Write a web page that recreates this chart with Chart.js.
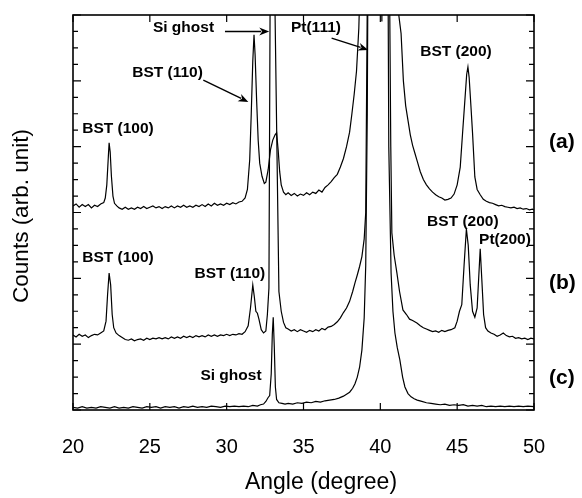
<!DOCTYPE html>
<html><head><meta charset="utf-8">
<script src="https://cdn.jsdelivr.net/npm/chart.js@4.4.0/dist/chart.umd.min.js"></script>
<style>html,body{margin:0;padding:0;background:#fff}</style>
</head><body>
<canvas id="c" width="582" height="498" style="width:582px;height:498px;display:block"></canvas>
<script>
// ---- data (angle in degrees, counts in arbitrary stacked units) ----
const xTicks = [20, 25, 30, 35, 40, 45, 50];

const angA = [20.0,20.2,20.4,20.6,20.8,21.0,21.2,21.4,21.6,21.8,22.0,22.1,22.2,22.3,22.35,22.42,22.5,22.6,22.7,22.85,23.0,23.2,23.4,23.6,23.8,24.0,24.2,24.4,24.6,24.8,25.0,25.2,25.4,25.6,25.8,26.0,26.2,26.4,26.6,26.8,27.0,27.2,27.4,27.6,27.8,28.0,28.2,28.4,28.6,28.8,29.0,29.2,29.4,29.6,29.8,30.0,30.2,30.4,30.6,30.8,31.0,31.2,31.35,31.5,31.6,31.7,31.78,31.85,31.95,32.05,32.15,32.3,32.45,32.55,32.7,32.85,33.0,33.15,33.25,33.35,33.45,33.55,33.7,33.85,34.0,34.2,34.4,34.6,34.8,35.0,35.2,35.4,35.6,35.8,36.0,36.2,36.4,36.6,36.8,37.0,37.2,37.4,37.6,37.8,38.0,38.15,38.3,38.45,38.6,38.8,39.2,39.6,39.95,40.1,40.25,40.6,41.0,41.2,41.35,41.5,41.65,41.8,41.95,42.1,42.25,42.4,42.6,42.8,43.0,43.2,43.4,43.6,43.8,44.0,44.2,44.4,44.6,44.8,45.0,45.2,45.35,45.5,45.62,45.7,45.78,45.9,46.0,46.15,46.3,46.5,46.7,46.9,47.1,47.3,47.5,47.7,47.9,48.1,48.3,48.5,48.7,48.9,49.1,49.3,49.5,49.7,49.9,50.0];
const valA = [3.10,3.13,3.08,3.12,3.09,3.12,3.07,3.11,3.09,3.13,3.15,3.22,3.42,3.85,4.06,3.92,3.55,3.25,3.14,3.10,3.07,3.05,3.08,3.05,3.07,3.05,3.08,3.06,3.09,3.06,3.08,3.10,3.07,3.09,3.06,3.09,3.07,3.10,3.07,3.10,3.08,3.11,3.08,3.10,3.08,3.11,3.09,3.12,3.09,3.13,3.10,3.14,3.11,3.13,3.11,3.14,3.12,3.15,3.13,3.16,3.17,3.22,3.35,3.80,4.50,5.30,5.70,5.40,4.70,4.10,3.75,3.55,3.44,3.46,3.65,3.95,4.10,4.18,4.21,3.95,3.62,3.42,3.31,3.27,3.30,3.26,3.29,3.25,3.28,3.26,3.30,3.27,3.31,3.29,3.34,3.31,3.38,3.42,3.47,3.53,3.58,3.69,3.82,4.00,4.22,4.50,4.80,5.15,5.80,7.5,10,14,16,5.9,16,14,8.5,6.0,5.72,5.00,4.62,4.40,4.18,4.02,3.90,3.78,3.62,3.50,3.42,3.36,3.31,3.27,3.24,3.22,3.19,3.20,3.22,3.28,3.42,3.69,4.20,4.70,5.10,5.21,5.05,4.60,4.21,3.54,3.35,3.27,3.20,3.17,3.15,3.14,3.12,3.10,3.11,3.09,3.08,3.07,3.08,3.06,3.07,3.05,3.06,3.04,3.05,3.04];

const angB = [20.0,20.2,20.4,20.6,20.8,21.0,21.2,21.4,21.6,21.8,22.0,22.15,22.25,22.35,22.45,22.55,22.65,22.8,23.0,23.2,23.4,23.6,23.8,24.0,24.2,24.4,24.6,24.8,25.0,25.2,25.4,25.6,25.8,26.0,26.2,26.4,26.6,26.8,27.0,27.2,27.4,27.6,27.8,28.0,28.2,28.4,28.6,28.8,29.0,29.2,29.4,29.6,29.8,30.0,30.2,30.4,30.6,30.8,31.0,31.2,31.4,31.55,31.7,31.8,31.9,32.0,32.1,32.25,32.4,32.55,32.65,32.75,33.0,33.15,33.4,33.55,33.7,33.85,34.0,34.2,34.4,34.6,34.8,35.0,35.2,35.4,35.6,35.8,36.0,36.2,36.4,36.6,36.8,37.0,37.2,37.4,37.6,37.8,38.0,38.2,38.35,38.5,38.65,38.8,38.95,39.05,39.15,39.3,39.85,40.4,40.55,40.68,40.75,40.9,41.08,41.25,41.47,41.7,41.9,42.1,42.38,42.6,42.8,43.0,43.2,43.4,43.6,43.8,44.0,44.2,44.4,44.6,44.85,45.0,45.15,45.3,45.45,45.6,45.72,45.85,46.0,46.15,46.3,46.4,46.5,46.6,46.72,46.85,47.0,47.2,47.4,47.6,47.8,48.0,48.2,48.4,48.6,48.8,49.0,49.2,49.4,49.6,49.8,50.0];
const valB = [1.14,1.11,1.15,1.12,1.14,1.10,1.13,1.15,1.14,1.17,1.20,1.35,1.75,2.08,1.90,1.45,1.25,1.17,1.13,1.10,1.07,1.06,1.08,1.05,1.07,1.08,1.06,1.09,1.07,1.09,1.08,1.10,1.08,1.10,1.08,1.11,1.09,1.11,1.09,1.12,1.10,1.12,1.10,1.13,1.11,1.13,1.11,1.14,1.12,1.14,1.12,1.14,1.13,1.15,1.13,1.15,1.14,1.16,1.15,1.19,1.28,1.55,1.90,1.72,1.50,1.47,1.38,1.22,1.17,1.20,1.45,1.85,16,6.0,1.80,1.50,1.33,1.25,1.23,1.20,1.22,1.19,1.22,1.20,1.18,1.21,1.19,1.22,1.20,1.24,1.22,1.26,1.27,1.30,1.34,1.40,1.48,1.55,1.65,1.80,1.93,2.05,2.18,2.33,2.60,3.00,6.2,12,40,12,8,4.0,2.69,2.35,2.08,1.80,1.52,1.45,1.38,1.36,1.32,1.28,1.25,1.23,1.21,1.19,1.20,1.18,1.21,1.19,1.21,1.22,1.25,1.35,1.50,1.60,2.20,2.75,2.50,1.90,1.50,1.41,1.55,2.00,2.45,2.00,1.45,1.25,1.20,1.17,1.15,1.12,1.14,1.17,1.13,1.11,1.12,1.09,1.10,1.08,1.09,1.07,1.09,1.08];

const angC = [20.0,20.3,20.6,20.9,21.2,21.5,21.8,22.1,22.4,22.7,23.0,23.3,23.6,23.9,24.2,24.5,24.8,25.1,25.4,25.7,26.0,26.3,26.6,26.9,27.2,27.5,27.8,28.1,28.4,28.7,29.0,29.3,29.6,29.9,30.2,30.5,30.8,31.1,31.4,31.7,32.0,32.2,32.4,32.55,32.7,32.8,32.9,32.97,33.03,33.1,33.17,33.25,33.4,33.6,33.8,34.0,34.3,34.6,34.9,35.2,35.5,35.8,36.1,36.4,36.7,37.0,37.3,37.6,37.8,38.0,38.2,38.35,38.5,38.65,38.8,38.95,39.05,39.15,39.3,39.85,40.4,40.55,40.7,40.82,40.95,41.1,41.27,41.45,41.6,41.8,42.0,42.2,42.4,42.7,43.0,43.3,43.6,43.9,44.2,44.5,44.8,45.1,45.4,45.7,46.0,46.3,46.6,46.9,47.2,47.5,47.8,48.1,48.4,48.7,49.0,49.3,49.6,50.0];
const valC = [0.04,0.03,0.05,0.03,0.04,0.03,0.05,0.04,0.03,0.05,0.03,0.04,0.03,0.05,0.04,0.03,0.05,0.04,0.05,0.03,0.05,0.04,0.05,0.03,0.05,0.04,0.06,0.04,0.05,0.04,0.06,0.05,0.04,0.06,0.05,0.06,0.05,0.06,0.05,0.07,0.06,0.08,0.09,0.13,0.19,0.22,0.55,1.15,1.41,0.95,0.35,0.16,0.11,0.10,0.09,0.10,0.09,0.11,0.10,0.12,0.11,0.13,0.12,0.14,0.15,0.16,0.18,0.21,0.24,0.27,0.33,0.40,0.50,0.65,0.91,1.40,2.20,4.5,12,60,12,4.0,2.08,1.50,1.17,0.95,0.76,0.50,0.35,0.25,0.20,0.17,0.15,0.13,0.11,0.10,0.09,0.08,0.09,0.07,0.08,0.07,0.08,0.06,0.07,0.06,0.07,0.05,0.06,0.05,0.06,0.05,0.06,0.05,0.06,0.05,0.06,0.05];

// peak annotations: text, anchor angle, anchor value
const noteText = ['Si ghost','BST (110)','BST (100)','Pt(111)','BST (200)','BST (200)','Pt(200)','BST (100)','BST (110)','Si ghost'];
const noteAng  = [27.19, 26.15, 22.93, 35.81, 44.92, 45.37, 48.11, 22.93, 30.21, 30.28];
const noteVal  = [5.81, 5.12, 4.28, 5.81, 5.44, 2.86, 2.58, 2.32, 2.07, 0.52];
const tagText = ['(a)','(b)','(c)'];
const tagVal  = [4.07, 1.93, 0.49];
// arrows: [fromAngle, fromVal, toAngle, toVal]
const arrows = [[29.89,5.75,32.77,5.75],[28.48,5.01,31.41,4.68],[36.83,5.65,39.21,5.47]];

const FONT = "'Liberation Sans', Arial, Helvetica, sans-serif";

function series(ang, val){ return ang.map((a,i)=>({x:a, y:val[i]})); }
function ds(ang, val){ return {data: series(ang,val), borderColor:'#000', borderWidth:1.2, pointRadius:0, fill:false, tension:0}; }

const decor = {
  id: 'decor',
  afterDatasetsDraw(chart){
    const {ctx, chartArea:a, scales:{x, y}} = chart;
    ctx.save();
    ctx.strokeStyle = '#000'; ctx.fillStyle = '#000';
    ctx.lineWidth = 1.6;
    ctx.strokeRect(a.left, a.top, a.right - a.left, a.bottom - a.top);
    ctx.lineWidth = 1.2;
    ctx.beginPath();
    for (let i = 0; i <= 24; i++) {
      const py = y.getPixelForValue(i * 0.25);
      const L = (i % 4 === 0) ? 8 : 5;
      ctx.moveTo(a.left, py); ctx.lineTo(a.left + L, py);
      ctx.moveTo(a.right, py); ctx.lineTo(a.right - L, py);
    }
    xTicks.forEach(v => {
      const px = x.getPixelForValue(v);
      ctx.moveTo(px, a.bottom); ctx.lineTo(px, a.bottom - 7);
      ctx.moveTo(px, a.top); ctx.lineTo(px, a.top + 7);
    });
    ctx.stroke();

    // annotations
    ctx.textBaseline = 'middle';
    ctx.textAlign = 'center';
    ctx.font = "bold 15.5px " + FONT;
    noteText.forEach((t, i) => {
      ctx.fillText(t, x.getPixelForValue(noteAng[i]), y.getPixelForValue(noteVal[i]));
    });
    ctx.textAlign = 'left';
    ctx.font = "bold 21px " + FONT;
    tagText.forEach((t, i) => {
      ctx.fillText(t, a.right + 15, y.getPixelForValue(tagVal[i]));
    });
    // arrows
    ctx.lineWidth = 1.4;
    arrows.forEach(ar => {
      const x0 = x.getPixelForValue(ar[0]), y0 = y.getPixelForValue(ar[1]);
      const x1 = x.getPixelForValue(ar[2]), y1 = y.getPixelForValue(ar[3]);
      const ang = Math.atan2(y1 - y0, x1 - x0);
      const hl = 10, hw = 4;
      ctx.beginPath(); ctx.moveTo(x0, y0);
      ctx.lineTo(x1 - (hl - 2) * Math.cos(ang), y1 - (hl - 2) * Math.sin(ang)); ctx.stroke();
      ctx.beginPath();
      ctx.moveTo(x1, y1);
      ctx.lineTo(x1 - hl * Math.cos(ang) + hw * Math.sin(ang), y1 - hl * Math.sin(ang) - hw * Math.cos(ang));
      ctx.lineTo(x1 - (hl - 3) * Math.cos(ang), y1 - (hl - 3) * Math.sin(ang));
      ctx.lineTo(x1 - hl * Math.cos(ang) - hw * Math.sin(ang), y1 - hl * Math.sin(ang) + hw * Math.cos(ang));
      ctx.closePath(); ctx.fill();
    });
    // axis titles
    ctx.textAlign = 'center';
    ctx.font = "23px " + FONT;
    ctx.fillText('Angle (degree)', a.left + 248, 483);
    ctx.save();
    ctx.translate(22, (a.top + a.bottom) / 2 + 3.5);
    ctx.rotate(-Math.PI / 2);
    ctx.font = "22.5px " + FONT;
    ctx.fillText('Counts (arb. unit)', 0, 0);
    ctx.restore();
    ctx.restore();
  }
};

new Chart(document.getElementById('c'), {
  type: 'line',
  data: { datasets: [ds(angA, valA), ds(angB, valB), ds(angC, valC)] },
  options: {
    responsive: false, animation: false, devicePixelRatio: 1,
    layout: { padding: { top: 15, right: 48, left: 0, bottom: 0 } },
    plugins: { legend: { display: false }, tooltip: { enabled: false } },
    scales: {
      x: {
        type: 'linear', min: 20, max: 50,
        afterBuildTicks: s => { s.ticks = xTicks.map(v => ({ value: v })); },
        ticks: { font: { family: FONT, size: 20 }, color: '#000', padding: 25, maxRotation: 0, autoSkip: false },
        grid: { display: false, drawTicks: false },
        border: { display: false },
        afterFit: s => { s.height = 88; }
      },
      y: {
        type: 'linear', min: 0, max: 6,
        ticks: { display: false },
        grid: { display: false, drawTicks: false },
        border: { display: false },
        afterFit: s => { s.width = 73; }
      }
    }
  },
  plugins: [decor]
});
</script>
</body></html>
